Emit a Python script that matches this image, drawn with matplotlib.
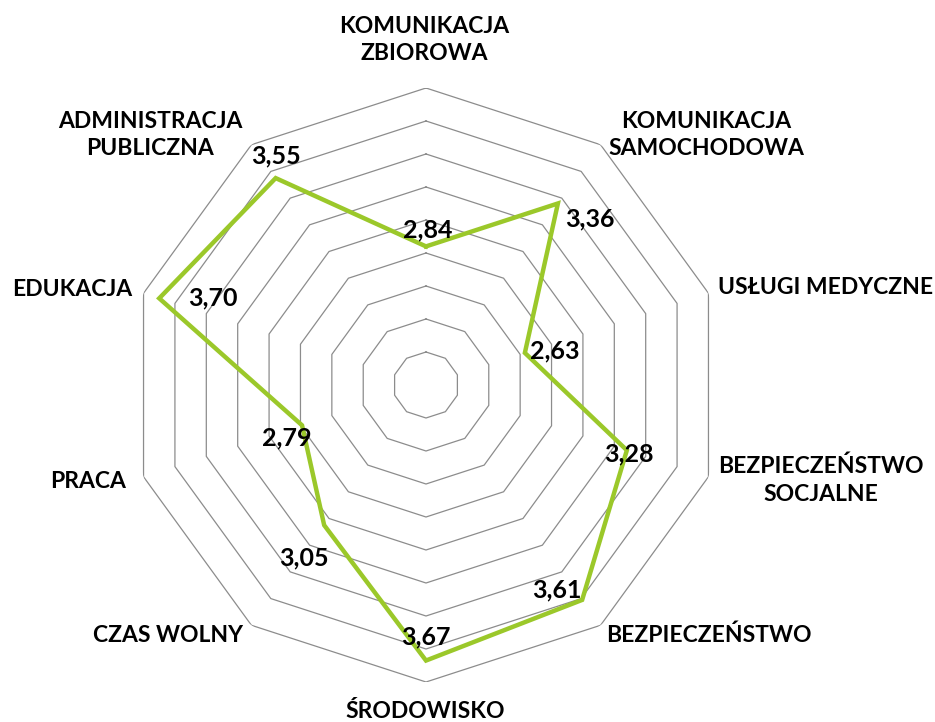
import numpy as np
import matplotlib
matplotlib.use('Agg')
import matplotlib.pyplot as plt

plt.rcParams['font.family'] = ['Lato', 'DejaVu Sans']

categories = ['KOMUNIKACJA\nZBIOROWA', 'KOMUNIKACJA\nSAMOCHODOWA', 'USŁUGI MEDYCZNE',
              'BEZPIECZEŃSTWO\nSOCJALNE', 'BEZPIECZEŃSTWO', 'ŚRODOWISKO',
              'CZAS WOLNY', 'PRACA', 'EDUKACJA', 'ADMINISTRACJA\nPUBLICZNA']
values = [2.84, 3.36, 2.63, 3.28, 3.61, 3.67, 3.05, 2.79, 3.70, 3.55]
r_min, r_max, r_step = 2.0, 3.8, 0.2

# label offsets in pixels (dx, dy) relative to point / label centres
val_off = [(2, 16), (32, -15), (30, 2), (2, -4), (-25, 10), (0, 24),
           (-20, -33), (-15, -13), (54, 0), (0, 22)]
cat_pos = [(424, 40), (706, 135), (826, 288), (821, 480), (709, 635),
           (425, 712), (168, 635), (88, 482), (72, 290), (150, 135)]

n = len(categories)
theta = np.arange(n) * 2 * np.pi / n
theta_c = np.append(theta, theta[0])

fig = plt.figure(figsize=(9.35, 7.22), dpi=100)
W, H = 935, 722
cx, cy, R = 426, 385, 297
ax = fig.add_axes([(cx - R) / W, (H - cy - R) / H, 2 * R / W, 2 * R / H], projection='polar')
ax.set_theta_offset(np.pi / 2)
ax.set_theta_direction(-1)
ax.set_ylim(r_min, r_max)
ax.grid(False)
ax.spines['polar'].set_visible(False)
ax.set_xticks([])
ax.set_yticks([])
ax.patch.set_visible(False)

for r in np.arange(r_min + r_step, r_max + 1e-9, r_step):
    ax.plot(theta_c, [r] * (n + 1), color='#8c8c8c', lw=0.9, zorder=1)

v_c = values + values[:1]
ax.plot(theta_c, v_c, color='#9BC82A', lw=3.2, zorder=3, solid_joinstyle='miter')

for t, v, (dx, dy) in zip(theta, values, val_off):
    ax.annotate(f'{v:.2f}'.replace('.', ','), xy=(t, v), xytext=(dx, dy),
                textcoords='offset pixels', ha='center', va='center',
                fontsize=18, fontweight='bold', color='black', zorder=4)

for lab, (px, py) in zip(categories, cat_pos):
    fig.text(px / W, 1 - py / H, lab, ha='center', va='center', fontsize=16.5,
             fontweight='bold', linespacing=1.4, color='black')

fig.savefig('out.png', dpi=100)
